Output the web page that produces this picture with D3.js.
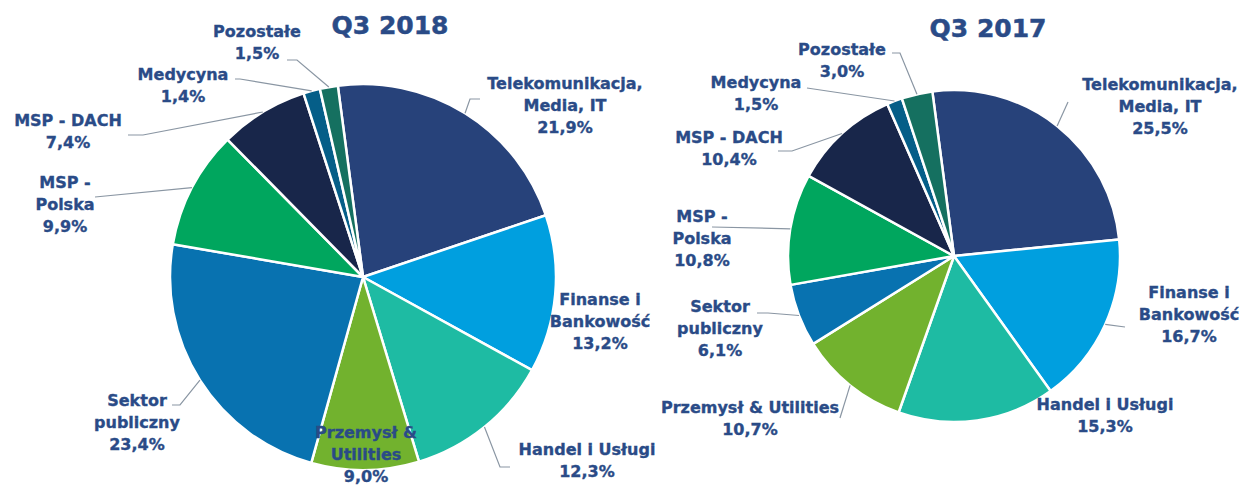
<!DOCTYPE html>
<html>
<head>
<meta charset="utf-8">
<script src="https://cdn.jsdelivr.net/npm/d3@7"></script>
<style>
  body { margin: 0; background: #fff; }
  svg { display: block; }
</style>
</head>
<body>
<script>
const [W, H] = [1247, 486];
const FONT = '"DejaVu Sans", Verdana, sans-serif';
const TEXT_COLOR = '#2A4B87';
const LINE_COLOR = '#8A96A3';

// data
const categories = ['Telekomunikacja, Media, IT', 'Finanse i Bankowość', 'Handel i Usługi', 'Przemysł & Utilities',
    'Sektor publiczny', 'MSP - Polska', 'MSP - DACH', 'Medycyna', 'Pozostałe'];
const values2018 = [21.9, 13.2, 12.3, 9.0, 23.4, 9.9, 7.4, 1.4, 1.5];
const values2017 = [25.5, 16.7, 15.3, 10.7, 6.1, 10.8, 10.4, 1.5, 3.0];
const colors = ['#27427A', '#009FDF', '#1EBBA3', '#72B22E', '#0872B0', '#00A65E', '#18264A', '#055E88', '#157060'];

// label layout (text centre, first baseline, leader stub from text towards the pie)
const charts = [
    {
        title: 'Q3 2018', titleX: 390, titleY: 34,
        values: values2018, cx: 363, cy: 277, r: 193,
        labels: [
            { lines: ['Telekomunikacja,', 'Media, IT'], x: 565, y: 89, stub: [[480, 99], [470, 99]] },
            { lines: ['Finanse i', 'Bankowość'], x: 600, y: 305, stub: null },
            { lines: ['Handel i Usługi'], x: 587, y: 455, stub: [[510, 467], [500, 467]] },
            { lines: ['Przemysł &', 'Utilities'], x: 366, y: 438, stub: null },
            { lines: ['Sektor', 'publiczny'], x: 137, y: 406, stub: [[172, 405], [180, 405]] },
            { lines: ['MSP -', 'Polska'], x: 65, y: 188, stub: [[95, 197]] },
            { lines: ['MSP - DACH'], x: 68, y: 126, stub: [[128, 135], [143, 135]] },
            { lines: ['Medycyna'], x: 183, y: 80, stub: [[235, 79], [240, 79]] },
            { lines: ['Pozostałe'], x: 257, y: 37, stub: [[287, 60], [297, 60]] }
        ]
    },
    {
        title: 'Q3 2017', titleX: 988, titleY: 37,
        values: values2017, cx: 954, cy: 256, r: 166,
        labels: [
            { lines: ['Telekomunikacja,', 'Media, IT'], x: 1160, y: 90, stub: [[1068, 102]] },
            { lines: ['Finanse i', 'Bankowość'], x: 1189, y: 298, stub: [[1125, 327]] },
            { lines: ['Handel i Usługi'], x: 1105, y: 410, stub: null },
            { lines: ['Przemysł & Utilities'], x: 750, y: 413, stub: [[840, 418]] },
            { lines: ['Sektor', 'publiczny'], x: 720, y: 312, stub: [[757, 313], [768, 313]] },
            { lines: ['MSP -', 'Polska'], x: 702, y: 222, stub: [[712, 227]] },
            { lines: ['MSP - DACH'], x: 729, y: 143, stub: [[778, 151], [792, 151]] },
            { lines: ['Medycyna'], x: 756, y: 88, stub: [[807, 88]] },
            { lines: ['Pozostałe'], x: 842, y: 55, stub: [[892, 53], [900, 53]] }
        ]
    }
];

const START = -7.5 * Math.PI / 180;
const LINE_H = 22;
const fmt = v => v.toFixed(1).replace('.', ',') + '%';

const svg = d3.select('body').append('svg').attr('width', W).attr('height', H);

charts.forEach(chart => {
    const pie = d3.pie().sort(null).startAngle(START).endAngle(START + 2 * Math.PI);
    const arcs = pie(chart.values);
    const arc = d3.arc().innerRadius(0).outerRadius(chart.r);

    const g = svg.append('g').attr('transform', 'translate(' + chart.cx + ',' + chart.cy + ')');

    g.selectAll('path')
        .data(arcs)
        .enter()
        .append('path')
        .attr('d', arc)
        .attr('fill', (d, i) => colors[i])
        .attr('stroke', '#fff')
        .attr('stroke-width', 2.5)
        .attr('stroke-linejoin', 'round');

    // title
    svg.append('text')
        .attr('x', chart.titleX)
        .attr('y', chart.titleY)
        .attr('text-anchor', 'middle')
        .style('font-family', FONT)
        .style('font-weight', 'bold')
        .style('font-size', '25px')
        .style('fill', TEXT_COLOR)
        .style('stroke', TEXT_COLOR)
        .style('stroke-width', 0.5)
        .text(chart.title);

    // leader lines
    arcs.forEach((d, i) => {
        const lab = chart.labels[i];
        if (!lab.stub) return;
        const mid = (d.startAngle + d.endAngle) / 2;
        const edge = [chart.cx + chart.r * Math.sin(mid), chart.cy - chart.r * Math.cos(mid)];
        svg.append('path')
            .attr('d', d3.line()(lab.stub.concat([edge])))
            .attr('fill', 'none')
            .attr('stroke', LINE_COLOR)
            .attr('stroke-width', 1.2);
    });

    // labels
    arcs.forEach((d, i) => {
        const lab = chart.labels[i];
        const lines = lab.lines.concat([fmt(d.data)]);
        const t = svg.append('text')
            .attr('text-anchor', 'middle')
            .style('font-family', FONT)
            .style('font-weight', 'bold')
            .style('font-size', '16px')
            .style('fill', TEXT_COLOR)
            .style('stroke', TEXT_COLOR)
            .style('stroke-width', 0.35);
        lines.forEach((line, k) => {
            t.append('tspan')
                .attr('x', lab.x)
                .attr('y', lab.y + k * LINE_H)
                .text(line);
        });
    });
});
</script>
</body>
</html>
